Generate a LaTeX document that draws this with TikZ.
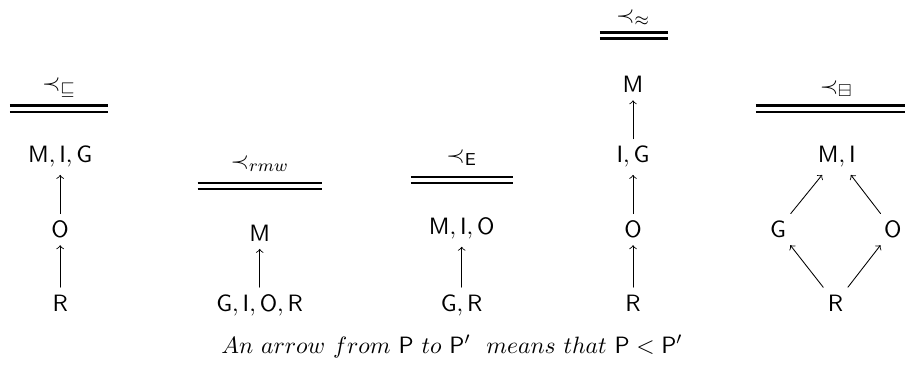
\documentclass[tikz,border=0pt]{standalone}
\usepackage{amssymb}
\begin{document}
\begin{tikzpicture}[>=to,line join=round,line cap=round,font=\fontsize{10.95}{13.6}\selectfont,
	lbl/.style={anchor=base},
	ttl/.style={anchor=base,inner sep=0pt},
	rule/.style={line width=1.1pt,line cap=butt}]
				\useasboundingbox (0,0) rectangle (14.74,6.12);
				\def\d{0.1}
				% titles and double rules
				\node[ttl] (t1) at (0.96,4.64) {$\prec_{\sqsubseteq}$};
				\node[ttl] (t2) at (4.23,3.38) {$\prec_{rmw}$};
				\node[ttl] (t3) at (7.52,3.48) {$\prec_{\mathsf{E}}$};
				\node[ttl] (t4) at (10.31,5.76) {$\prec_{\approx}$};
				\node[ttl] (t5) at (13.62,4.60) {$\prec_{\boxminus}$};
				\foreach \xa/\xb/\yr in {0.16/1.76/4.40, 3.22/5.24/3.14, 6.69/8.36/3.24, 9.77/10.88/5.59, 12.31/14.74/4.40}{
					\draw[rule] (\xa,\yr)--(\xb,\yr) (\xa,\yr-\d)--(\xb,\yr-\d);
				}
				% first order
				\node[lbl] (a1) at (0.98,3.47) {$\mathsf{M},\mathsf{I},\mathsf{G}$};
				\node[lbl] (a2) at (0.98,2.25) {$\mathsf{O}$};
				\node[lbl] (a3) at (0.98,1.05) {$\mathsf{R}$};
				\draw[->] (a3)--(a2);
				\draw[->] (a2)--(a1);
				% second order
				\node[lbl] (b1) at (4.23,2.19) {$\mathsf{M}$};
				\node[lbl] (b2) at (4.23,1.05) {$\mathsf{G},\mathsf{I},\mathsf{O},\mathsf{R}$};
				\draw[->] (b2)--(b1);
				% third order
				\node[lbl] (c1) at (7.52,2.30) {$\mathsf{M},\mathsf{I},\mathsf{O}$};
				\node[lbl] (c2) at (7.52,1.05) {$\mathsf{G},\mathsf{R}$};
				\draw[->] (c2)--(c1);
				% fourth order
				\node[lbl] (d1) at (10.31,4.61) {$\mathsf{M}$};
				\node[lbl] (d2) at (10.31,3.47) {$\mathsf{I},\mathsf{G}$};
				\node[lbl] (d3) at (10.31,2.25) {$\mathsf{O}$};
				\node[lbl] (d4) at (10.31,1.05) {$\mathsf{R}$};
				\draw[->] (d4)--(d3);
				\draw[->] (d3)--(d2);
				\draw[->] (d2)--(d1);
				% fifth order
				\node[lbl] (e1) at (13.63,3.47) {$\mathsf{M},\mathsf{I}$};
				\node[lbl] (e2) at (12.67,2.25) {$\mathsf{G}$};
				\node[lbl] (e3) at (14.54,2.25) {$\mathsf{O}$};
				\node[lbl] (e4) at (13.61,1.05) {$\mathsf{R}$};
				\draw[->] (e4)--(e2);
				\draw[->] (e4)--(e3);
				\draw[->] (e2)--(e1);
				\draw[->] (e3)--(e1);
				\node[lbl] (cap) at (7.36,0.37) {$An\ arrow\ from\ \mathsf{P}\ to\ \mathsf{P}'\ \ means\ that\ \mathsf{P}<\mathsf{P}'$};
			\end{tikzpicture}
\end{document}
